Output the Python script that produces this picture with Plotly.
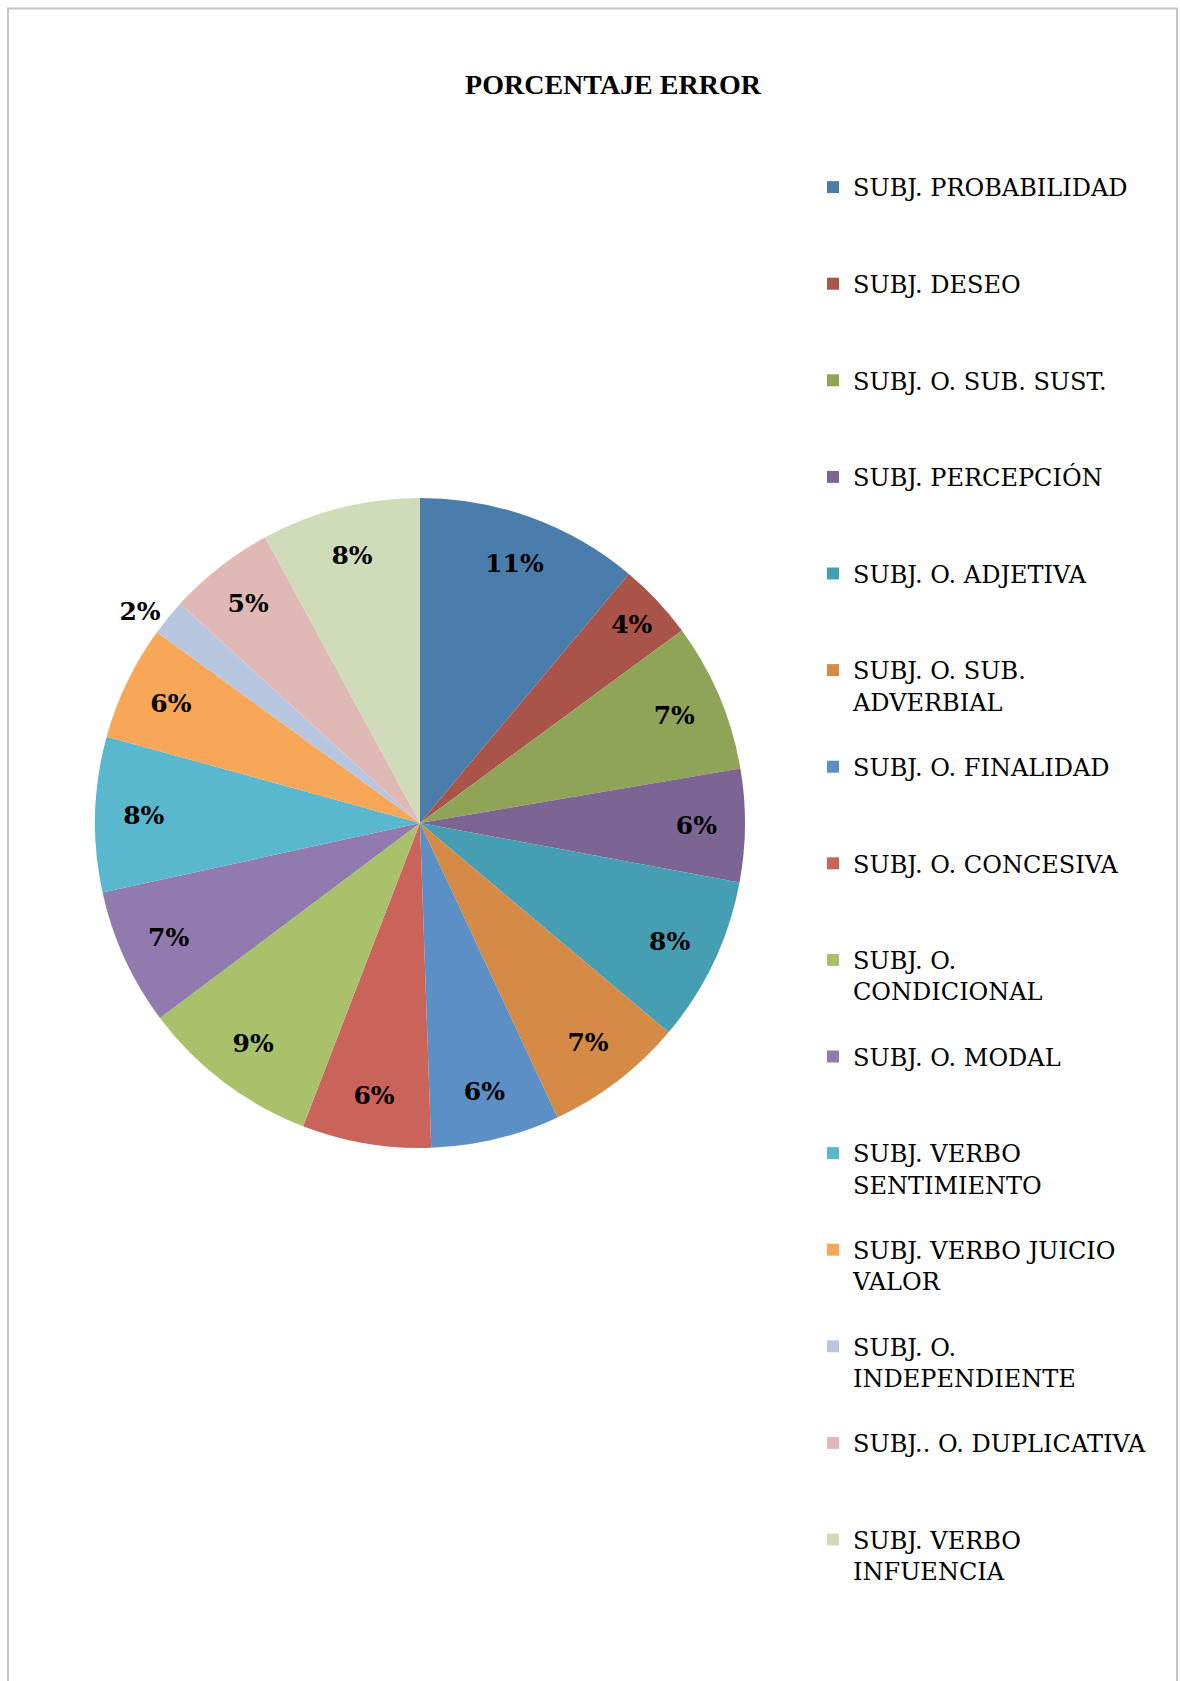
import plotly.graph_objects as go

# ---- data ----
categories = [
    "SUBJ. PROBABILIDAD",
    "SUBJ. DESEO",
    "SUBJ. O. SUB. SUST.",
    "SUBJ. PERCEPCIÓN",
    "SUBJ. O. ADJETIVA",
    "SUBJ. O. SUB.<br>ADVERBIAL",
    "SUBJ. O. FINALIDAD",
    "SUBJ. O. CONCESIVA",
    "SUBJ. O.<br>CONDICIONAL",
    "SUBJ. O. MODAL",
    "SUBJ. VERBO<br>SENTIMIENTO",
    "SUBJ. VERBO JUICIO<br>VALOR",
    "SUBJ. O.<br>INDEPENDIENTE",
    "SUBJ.. O. DUPLICATIVA",
    "SUBJ. VERBO<br>INFUENCIA",
]
values = [11.1, 3.8, 7.4, 5.6, 8.2, 6.9, 6.4, 6.4, 8.9, 6.8, 7.7, 5.7, 1.8, 5.3, 7.9]
colors = [
    "#4A7DAB", "#AA5349", "#8FA457", "#7C6592", "#469EB3", "#D58B45",
    "#5B8FC5", "#CA645B", "#AAC16B", "#907AAE", "#59B8CE", "#F8A657",
    "#B8C7E0", "#E0B8B6", "#D0DBBA",
]
title_text = "PORCENTAJE ERROR"

W, H = 1180, 1681
SERIF = "DejaVu Serif, Liberation Serif, serif"

# pad every legend entry to three lines so entries are evenly spaced
legend_labels = []
for c in categories:
    n = c.count("<br>") + 1
    legend_labels.append(c + "<br>\u00a0" * (3 - n))

# small slices get their label outside
text_pos = ["outside" if v / sum(values) < 0.03 else "inside" for v in values]

cx, cy, r = 420, 823, 325
domain = dict(x=[(cx - r) / W, (cx + r) / W], y=[1 - (cy + r) / H, 1 - (cy - r) / H])
label_font = dict(family=SERIF, size=25, color="black", weight="bold")

fig = go.Figure()
# coloured slices
fig.add_trace(
    go.Pie(
        labels=legend_labels,
        values=values,
        sort=False,
        direction="clockwise",
        rotation=0,
        marker=dict(colors=colors, line=dict(width=0)),
        textinfo="none",
        domain=domain,
        hoverinfo="label+percent",
    )
)
# percentage labels (same data, ring layout keeps them near the rim)
fig.add_trace(
    go.Pie(
        labels=legend_labels,
        values=values,
        sort=False,
        direction="clockwise",
        rotation=0,
        hole=0.7,
        marker=dict(colors=["rgba(0,0,0,0)"] * len(values), line=dict(width=0)),
        texttemplate="%{percent:.0%}",
        textposition=text_pos,
        insidetextorientation="horizontal",
        textfont=label_font,
        outsidetextfont=label_font,
        domain=domain,
        showlegend=False,
        hoverinfo="skip",
    )
)

fig.update_layout(
    width=W,
    height=H,
    margin=dict(l=0, r=0, t=0, b=0, autoexpand=False),
    paper_bgcolor="white",
    plot_bgcolor="white",
    uniformtext=dict(minsize=25, mode="show"),
    title=dict(
        text="<b>" + title_text + "</b>",
        x=613 / W,
        xanchor="center",
        xref="paper",
        y=1 - 84 / H,
        yref="container",
        yanchor="middle",
        font=dict(family="Liberation Serif, serif", size=28, color="black"),
    ),
    legend=dict(
        x=813 / W,
        xanchor="left",
        y=1 - 165 / H,
        yanchor="top",
        valign="top",
        font=dict(family=SERIF, size=24, color="black"),
        bgcolor="rgba(0,0,0,0)",
        borderwidth=0,
        traceorder="normal",
    ),
    showlegend=True,
    shapes=[
        dict(
            type="rect", xref="paper", yref="paper",
            x0=8 / W, x1=1177 / W, y0=-0.02, y1=1 - 8.5 / H,
            line=dict(color="#C6C6C6", width=2), fillcolor="rgba(0,0,0,0)", layer="below",
        )
    ],
)

fig.write_html(
    "out.html",
    config={"displayModeBar": False},
    post_script="document.body.style.margin='0';document.body.style.overflow='hidden';",
)
